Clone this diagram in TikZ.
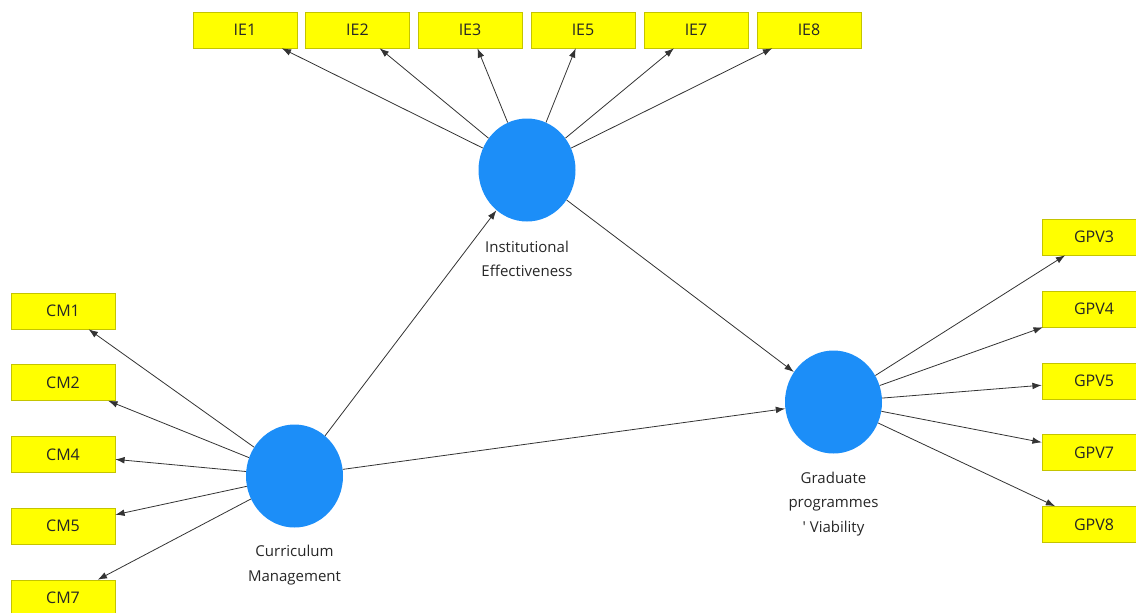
\documentclass[tikz,border=0pt]{standalone}
\usepackage{fontspec}
\setmainfont{Open Sans}
\usepackage{tikz}
\usetikzlibrary{%
arrows,%
arrows.meta,%
shapes.geometric}
\definecolor{itemyellow}{RGB}{255,255,0}
\definecolor{itemedge}{RGB}{196,196,0}
\definecolor{construct}{RGB}{28,142,248}

\begin{document}
\begin{tikzpicture}[x=0.75pt,y=-0.75pt,
    item/.style={rectangle,draw=itemedge,fill=itemyellow,minimum width=78pt,
      minimum height=27pt,inner sep=0pt,text=black!85,font=\fontsize{12}{14}\selectfont},
    latent/.style={ellipse,fill=construct,minimum width=72.75pt,
      minimum height=77.25pt,inner sep=0pt},
    caption/.style={align=center,text=black!85,font=\fontsize{11.25}{18.3}\selectfont},
    load/.style={draw=black!80,line width=0.6pt,-{Latex[length=7pt,width=5pt]}}]
\useasboundingbox (0,0) rectangle (1136,612);
% constructs
\node[latent] (ie) at (527,170) {};
\node[latent] (cm) at (294.5,476) {};
\node[latent] (gpv) at (833.5,402) {};
\node[caption] (ielab) at (527,259) {Institutional\\Effectiveness};
\node[caption] (cmlab) at (294.5,565) {Curriculum\\Management};
\node[caption] (gpvlab) at (833.5,504) {Graduate\\programmes\\\textquotesingle\ Viability};
% indicators
\node[item] (ie1) at (245,30) {IE1};
\node[item] (ie2) at (357.5,30) {IE2};
\node[item] (ie3) at (470,30) {IE3};
\node[item] (ie5) at (583,30) {IE5};
\node[item] (ie7) at (696,30) {IE7};
\node[item] (ie8) at (809,30) {IE8};
\node[item] (cm1) at (63,311) {CM1};
\node[item] (cm2) at (63,382.5) {CM2};
\node[item] (cm4) at (63,454.5) {CM4};
\node[item] (cm5) at (63,526) {CM5};
\node[item] (cm7) at (63,598) {CM7};
\node[item] (gpv3) at (1094,237) {GPV3};
\node[item] (gpv4) at (1094,309) {GPV4};
\node[item] (gpv5) at (1094,381) {GPV5};
\node[item] (gpv7) at (1094,452.5) {GPV7};
\node[item] (gpv8) at (1094,524.5) {GPV8};
% structural paths
\draw[load] (cm) -- (ie);
\draw[load] (cm) -- (gpv);
\draw[load] (ie) -- (gpv);
% outer loadings
\draw[load] (ie) -- (ie1);
\draw[load] (ie) -- (ie2);
\draw[load] (ie) -- (ie3);
\draw[load] (ie) -- (ie5);
\draw[load] (ie) -- (ie7);
\draw[load] (ie) -- (ie8);
\draw[load] (cm) -- (cm1);
\draw[load] (cm) -- (cm2);
\draw[load] (cm) -- (cm4);
\draw[load] (cm) -- (cm5);
\draw[load] (cm) -- (cm7);
\draw[load] (gpv) -- (gpv3);
\draw[load] (gpv) -- (gpv4);
\draw[load] (gpv) -- (gpv5);
\draw[load] (gpv) -- (gpv7);
\draw[load] (gpv) -- (gpv8);
\end{tikzpicture}
\end{document}
